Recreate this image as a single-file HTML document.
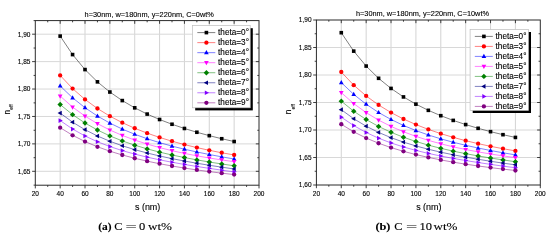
<!DOCTYPE html>
<html><head><meta charset="utf-8"><title>n_eff vs s</title>
<style>html,body{margin:0;padding:0;background:#fff}svg{display:block}text{stroke:#000;stroke-width:0.12px}svg{font-family:"Liberation Sans","DejaVu Sans",sans-serif}</style>
</head><body>
<svg width="550" height="240" viewBox="0 0 550 240">
<defs><filter id="soft" x="0" y="0" width="550" height="240" filterUnits="userSpaceOnUse"><feGaussianBlur stdDeviation="0.32"/></filter></defs>
<rect width="550" height="240" fill="#fff"/>
<g filter="url(#soft)">
<path d="M60.16 20.6 V185.2 M85.01 20.6 V185.2 M109.87 20.6 V185.2 M134.72 20.6 V185.2 M159.58 20.6 V185.2 M184.43 20.6 V185.2 M209.29 20.6 V185.2 M234.14 20.6 V185.2" stroke="#cecece" stroke-width="0.9" fill="none"/>
<path d="M35.3 34.20 H259.0 M35.3 61.62 H259.0 M35.3 89.04 H259.0 M35.3 116.46 H259.0 M35.3 143.88 H259.0 M35.3 171.30 H259.0" stroke="#d8d8d8" stroke-width="1" fill="none"/>
<polyline points="60.16,36.10 72.58,54.58 85.01,69.57 97.44,81.85 109.87,92.03 122.29,100.58 134.72,107.84 147.15,114.08 159.58,119.50 172.01,124.25 184.43,128.47 196.86,132.25 209.29,135.65 221.72,138.73 234.14,141.54" fill="none" stroke="#000000" stroke-width="0.5"/>
<rect x="58.36" y="34.30" width="3.6" height="3.6" fill="#000000"/>
<rect x="70.78" y="52.78" width="3.6" height="3.6" fill="#000000"/>
<rect x="83.21" y="67.77" width="3.6" height="3.6" fill="#000000"/>
<rect x="95.64" y="80.05" width="3.6" height="3.6" fill="#000000"/>
<rect x="108.07" y="90.23" width="3.6" height="3.6" fill="#000000"/>
<rect x="120.49" y="98.78" width="3.6" height="3.6" fill="#000000"/>
<rect x="132.92" y="106.04" width="3.6" height="3.6" fill="#000000"/>
<rect x="145.35" y="112.28" width="3.6" height="3.6" fill="#000000"/>
<rect x="157.78" y="117.70" width="3.6" height="3.6" fill="#000000"/>
<rect x="170.21" y="122.45" width="3.6" height="3.6" fill="#000000"/>
<rect x="182.63" y="126.67" width="3.6" height="3.6" fill="#000000"/>
<rect x="195.06" y="130.45" width="3.6" height="3.6" fill="#000000"/>
<rect x="207.49" y="133.85" width="3.6" height="3.6" fill="#000000"/>
<rect x="219.92" y="136.93" width="3.6" height="3.6" fill="#000000"/>
<rect x="232.34" y="139.74" width="3.6" height="3.6" fill="#000000"/>
<polyline points="60.16,75.42 72.58,88.59 85.01,99.45 97.44,108.51 109.87,116.15 122.29,122.66 134.72,128.27 147.15,133.15 159.58,137.43 172.01,141.21 184.43,144.58 196.86,147.60 209.29,150.31 221.72,152.76 234.14,154.98" fill="none" stroke="#ff0000" stroke-width="0.5"/>
<circle cx="60.16" cy="75.42" r="2.15" fill="#ff0000"/>
<circle cx="72.58" cy="88.59" r="2.15" fill="#ff0000"/>
<circle cx="85.01" cy="99.45" r="2.15" fill="#ff0000"/>
<circle cx="97.44" cy="108.51" r="2.15" fill="#ff0000"/>
<circle cx="109.87" cy="116.15" r="2.15" fill="#ff0000"/>
<circle cx="122.29" cy="122.66" r="2.15" fill="#ff0000"/>
<circle cx="134.72" cy="128.27" r="2.15" fill="#ff0000"/>
<circle cx="147.15" cy="133.15" r="2.15" fill="#ff0000"/>
<circle cx="159.58" cy="137.43" r="2.15" fill="#ff0000"/>
<circle cx="172.01" cy="141.21" r="2.15" fill="#ff0000"/>
<circle cx="184.43" cy="144.58" r="2.15" fill="#ff0000"/>
<circle cx="196.86" cy="147.60" r="2.15" fill="#ff0000"/>
<circle cx="209.29" cy="150.31" r="2.15" fill="#ff0000"/>
<circle cx="221.72" cy="152.76" r="2.15" fill="#ff0000"/>
<circle cx="234.14" cy="154.98" r="2.15" fill="#ff0000"/>
<polyline points="60.16,85.95 72.58,97.81 85.01,107.72 97.44,116.04 109.87,123.08 122.29,129.09 134.72,134.25 147.15,138.72 159.58,142.64 172.01,146.11 184.43,149.20 196.86,151.98 209.29,154.51 221.72,156.84 234.14,158.99" fill="none" stroke="#0000ff" stroke-width="0.5"/>
<polygon points="60.16,83.35 62.50,87.56 57.82,87.56" fill="#0000ff"/>
<polygon points="72.58,95.21 74.92,99.42 70.24,99.42" fill="#0000ff"/>
<polygon points="85.01,105.12 87.35,109.33 82.67,109.33" fill="#0000ff"/>
<polygon points="97.44,113.44 99.78,117.65 95.10,117.65" fill="#0000ff"/>
<polygon points="109.87,120.48 112.21,124.69 107.53,124.69" fill="#0000ff"/>
<polygon points="122.29,126.49 124.63,130.70 119.95,130.70" fill="#0000ff"/>
<polygon points="134.72,131.65 137.06,135.86 132.38,135.86" fill="#0000ff"/>
<polygon points="147.15,136.12 149.49,140.33 144.81,140.33" fill="#0000ff"/>
<polygon points="159.58,140.04 161.92,144.25 157.24,144.25" fill="#0000ff"/>
<polygon points="172.01,143.51 174.35,147.72 169.67,147.72" fill="#0000ff"/>
<polygon points="184.43,146.60 186.77,150.81 182.09,150.81" fill="#0000ff"/>
<polygon points="196.86,149.38 199.20,153.59 194.52,153.59" fill="#0000ff"/>
<polygon points="209.29,151.91 211.63,156.12 206.95,156.12" fill="#0000ff"/>
<polygon points="221.72,154.24 224.06,158.45 219.38,158.45" fill="#0000ff"/>
<polygon points="234.14,156.39 236.48,160.60 231.80,160.60" fill="#0000ff"/>
<polyline points="60.16,96.05 72.58,107.05 85.01,116.11 97.44,123.66 109.87,130.02 122.29,135.43 134.72,140.07 147.15,144.09 159.58,147.60 172.01,150.69 184.43,153.41 196.86,155.84 209.29,158.01 221.72,159.95 234.14,161.69" fill="none" stroke="#ff00ff" stroke-width="0.5"/>
<polygon points="60.16,98.65 62.50,94.44 57.82,94.44" fill="#ff00ff"/>
<polygon points="72.58,109.65 74.92,105.44 70.24,105.44" fill="#ff00ff"/>
<polygon points="85.01,118.71 87.35,114.50 82.67,114.50" fill="#ff00ff"/>
<polygon points="97.44,126.26 99.78,122.05 95.10,122.05" fill="#ff00ff"/>
<polygon points="109.87,132.62 112.21,128.41 107.53,128.41" fill="#ff00ff"/>
<polygon points="122.29,138.03 124.63,133.82 119.95,133.82" fill="#ff00ff"/>
<polygon points="134.72,142.67 137.06,138.46 132.38,138.46" fill="#ff00ff"/>
<polygon points="147.15,146.69 149.49,142.48 144.81,142.48" fill="#ff00ff"/>
<polygon points="159.58,150.20 161.92,145.99 157.24,145.99" fill="#ff00ff"/>
<polygon points="172.01,153.29 174.35,149.08 169.67,149.08" fill="#ff00ff"/>
<polygon points="184.43,156.01 186.77,151.80 182.09,151.80" fill="#ff00ff"/>
<polygon points="196.86,158.44 199.20,154.23 194.52,154.23" fill="#ff00ff"/>
<polygon points="209.29,160.61 211.63,156.40 206.95,156.40" fill="#ff00ff"/>
<polygon points="221.72,162.55 224.06,158.34 219.38,158.34" fill="#ff00ff"/>
<polygon points="234.14,164.29 236.48,160.08 231.80,160.08" fill="#ff00ff"/>
<polyline points="60.16,104.57 72.58,114.65 85.01,123.02 97.44,130.01 109.87,135.90 122.29,140.90 134.72,145.18 147.15,148.89 159.58,152.13 172.01,154.99 184.43,157.56 196.86,159.88 209.29,162.01 221.72,163.97 234.14,165.81" fill="none" stroke="#008000" stroke-width="0.5"/>
<polygon points="60.16,101.87 62.86,104.57 60.16,107.27 57.46,104.57" fill="#008000"/>
<polygon points="72.58,111.95 75.28,114.65 72.58,117.35 69.88,114.65" fill="#008000"/>
<polygon points="85.01,120.32 87.71,123.02 85.01,125.72 82.31,123.02" fill="#008000"/>
<polygon points="97.44,127.31 100.14,130.01 97.44,132.71 94.74,130.01" fill="#008000"/>
<polygon points="109.87,133.20 112.57,135.90 109.87,138.60 107.17,135.90" fill="#008000"/>
<polygon points="122.29,138.20 124.99,140.90 122.29,143.60 119.59,140.90" fill="#008000"/>
<polygon points="134.72,142.48 137.42,145.18 134.72,147.88 132.02,145.18" fill="#008000"/>
<polygon points="147.15,146.19 149.85,148.89 147.15,151.59 144.45,148.89" fill="#008000"/>
<polygon points="159.58,149.43 162.28,152.13 159.58,154.83 156.88,152.13" fill="#008000"/>
<polygon points="172.01,152.29 174.71,154.99 172.01,157.69 169.31,154.99" fill="#008000"/>
<polygon points="184.43,154.86 187.13,157.56 184.43,160.26 181.73,157.56" fill="#008000"/>
<polygon points="196.86,157.18 199.56,159.88 196.86,162.58 194.16,159.88" fill="#008000"/>
<polygon points="209.29,159.31 211.99,162.01 209.29,164.71 206.59,162.01" fill="#008000"/>
<polygon points="221.72,161.27 224.42,163.97 221.72,166.67 219.02,163.97" fill="#008000"/>
<polygon points="234.14,163.11 236.84,165.81 234.14,168.51 231.44,165.81" fill="#008000"/>
<polyline points="60.16,113.09 72.58,122.17 85.01,129.69 97.44,135.97 109.87,141.26 122.29,145.77 134.72,149.64 147.15,153.01 159.58,155.99 172.01,158.64 184.43,161.04 196.86,163.23 209.29,165.27 221.72,167.17 234.14,168.97" fill="none" stroke="#000080" stroke-width="0.5"/>
<polygon points="57.56,113.09 61.77,110.75 61.77,115.43" fill="#000080"/>
<polygon points="69.98,122.17 74.20,119.83 74.20,124.51" fill="#000080"/>
<polygon points="82.41,129.69 86.62,127.35 86.62,132.03" fill="#000080"/>
<polygon points="94.84,135.97 99.05,133.63 99.05,138.31" fill="#000080"/>
<polygon points="107.27,141.26 111.48,138.92 111.48,143.60" fill="#000080"/>
<polygon points="119.69,145.77 123.91,143.43 123.91,148.11" fill="#000080"/>
<polygon points="132.12,149.64 136.33,147.30 136.33,151.98" fill="#000080"/>
<polygon points="144.55,153.01 148.76,150.67 148.76,155.35" fill="#000080"/>
<polygon points="156.98,155.99 161.19,153.65 161.19,158.33" fill="#000080"/>
<polygon points="169.41,158.64 173.62,156.30 173.62,160.98" fill="#000080"/>
<polygon points="181.83,161.04 186.05,158.70 186.05,163.38" fill="#000080"/>
<polygon points="194.26,163.23 198.47,160.89 198.47,165.57" fill="#000080"/>
<polygon points="206.69,165.27 210.90,162.93 210.90,167.61" fill="#000080"/>
<polygon points="219.12,167.17 223.33,164.83 223.33,169.51" fill="#000080"/>
<polygon points="231.54,168.97 235.76,166.63 235.76,171.31" fill="#000080"/>
<polyline points="60.16,120.56 72.58,129.04 85.01,135.99 97.44,141.74 109.87,146.54 122.29,150.61 134.72,154.11 147.15,157.15 159.58,159.84 172.01,162.26 184.43,164.45 196.86,166.48 209.29,168.37 221.72,170.16 234.14,171.87" fill="none" stroke="#8000ff" stroke-width="0.5"/>
<polygon points="62.76,120.56 58.54,118.22 58.54,122.90" fill="#8000ff"/>
<polygon points="75.18,129.04 70.97,126.70 70.97,131.38" fill="#8000ff"/>
<polygon points="87.61,135.99 83.40,133.65 83.40,138.33" fill="#8000ff"/>
<polygon points="100.04,141.74 95.83,139.40 95.83,144.08" fill="#8000ff"/>
<polygon points="112.47,146.54 108.25,144.20 108.25,148.88" fill="#8000ff"/>
<polygon points="124.89,150.61 120.68,148.27 120.68,152.95" fill="#8000ff"/>
<polygon points="137.32,154.11 133.11,151.77 133.11,156.45" fill="#8000ff"/>
<polygon points="149.75,157.15 145.54,154.81 145.54,159.49" fill="#8000ff"/>
<polygon points="162.18,159.84 157.97,157.50 157.97,162.18" fill="#8000ff"/>
<polygon points="174.61,162.26 170.39,159.92 170.39,164.60" fill="#8000ff"/>
<polygon points="187.03,164.45 182.82,162.11 182.82,166.79" fill="#8000ff"/>
<polygon points="199.46,166.48 195.25,164.14 195.25,168.82" fill="#8000ff"/>
<polygon points="211.89,168.37 207.68,166.03 207.68,170.71" fill="#8000ff"/>
<polygon points="224.32,170.16 220.10,167.82 220.10,172.50" fill="#8000ff"/>
<polygon points="236.74,171.87 232.53,169.53 232.53,174.21" fill="#8000ff"/>
<polyline points="60.16,127.65 72.58,135.29 85.01,141.56 97.44,146.78 109.87,151.20 122.29,154.98 134.72,158.27 147.15,161.16 159.58,163.72 172.01,166.01 184.43,168.07 196.86,169.93 209.29,171.62 221.72,173.17 234.14,174.58" fill="none" stroke="#800080" stroke-width="0.5"/>
<circle cx="60.16" cy="127.65" r="2.15" fill="#800080"/>
<circle cx="72.58" cy="135.29" r="2.15" fill="#800080"/>
<circle cx="85.01" cy="141.56" r="2.15" fill="#800080"/>
<circle cx="97.44" cy="146.78" r="2.15" fill="#800080"/>
<circle cx="109.87" cy="151.20" r="2.15" fill="#800080"/>
<circle cx="122.29" cy="154.98" r="2.15" fill="#800080"/>
<circle cx="134.72" cy="158.27" r="2.15" fill="#800080"/>
<circle cx="147.15" cy="161.16" r="2.15" fill="#800080"/>
<circle cx="159.58" cy="163.72" r="2.15" fill="#800080"/>
<circle cx="172.01" cy="166.01" r="2.15" fill="#800080"/>
<circle cx="184.43" cy="168.07" r="2.15" fill="#800080"/>
<circle cx="196.86" cy="169.93" r="2.15" fill="#800080"/>
<circle cx="209.29" cy="171.62" r="2.15" fill="#800080"/>
<circle cx="221.72" cy="173.17" r="2.15" fill="#800080"/>
<circle cx="234.14" cy="174.58" r="2.15" fill="#800080"/>
<rect x="35.3" y="20.6" width="223.70" height="164.60" fill="none" stroke="#2a2a2a" stroke-width="1"/>
<path d="M35.30 185.2 v3.2 M47.73 185.2 v1.7 M47.73 20.6 v1.7 M60.16 185.2 v3.2 M60.16 20.6 v3.2 M72.58 185.2 v1.7 M72.58 20.6 v1.7 M85.01 185.2 v3.2 M85.01 20.6 v3.2 M97.44 185.2 v1.7 M97.44 20.6 v1.7 M109.87 185.2 v3.2 M109.87 20.6 v3.2 M122.29 185.2 v1.7 M122.29 20.6 v1.7 M134.72 185.2 v3.2 M134.72 20.6 v3.2 M147.15 185.2 v1.7 M147.15 20.6 v1.7 M159.58 185.2 v3.2 M159.58 20.6 v3.2 M172.01 185.2 v1.7 M172.01 20.6 v1.7 M184.43 185.2 v3.2 M184.43 20.6 v3.2 M196.86 185.2 v1.7 M196.86 20.6 v1.7 M209.29 185.2 v3.2 M209.29 20.6 v3.2 M221.72 185.2 v1.7 M221.72 20.6 v1.7 M234.14 185.2 v3.2 M234.14 20.6 v3.2 M246.57 185.2 v1.7 M246.57 20.6 v1.7 M259.00 185.2 v3.2 M35.3 34.20 h-3.2 M259.0 34.20 h-3.2 M35.3 61.62 h-3.2 M259.0 61.62 h-3.2 M35.3 89.04 h-3.2 M259.0 89.04 h-3.2 M35.3 116.46 h-3.2 M259.0 116.46 h-3.2 M35.3 143.88 h-3.2 M259.0 143.88 h-3.2 M35.3 171.30 h-3.2 M259.0 171.30 h-3.2 M35.3 20.60 h-1.7 M35.3 48.02 h-1.7 M259.0 48.02 h-1.7 M35.3 75.44 h-1.7 M259.0 75.44 h-1.7 M35.3 102.86 h-1.7 M259.0 102.86 h-1.7 M35.3 130.28 h-1.7 M259.0 130.28 h-1.7 M35.3 157.70 h-1.7 M259.0 157.70 h-1.7 M35.3 185.12 h-1.7" stroke="#2a2a2a" stroke-width="0.9" fill="none"/>
<g font-size="6.5" fill="#000">
<text x="35.30" y="195.90" text-anchor="middle">20</text>
<text x="60.16" y="195.90" text-anchor="middle">40</text>
<text x="85.01" y="195.90" text-anchor="middle">60</text>
<text x="109.87" y="195.90" text-anchor="middle">80</text>
<text x="134.72" y="195.90" text-anchor="middle">100</text>
<text x="159.58" y="195.90" text-anchor="middle">120</text>
<text x="184.43" y="195.90" text-anchor="middle">140</text>
<text x="209.29" y="195.90" text-anchor="middle">160</text>
<text x="234.14" y="195.90" text-anchor="middle">180</text>
<text x="259.00" y="195.90" text-anchor="middle">200</text>
<text x="30.40" y="36.50" text-anchor="end">1,90</text>
<text x="30.40" y="63.92" text-anchor="end">1,85</text>
<text x="30.40" y="91.34" text-anchor="end">1,80</text>
<text x="30.40" y="118.76" text-anchor="end">1,75</text>
<text x="30.40" y="146.18" text-anchor="end">1,70</text>
<text x="30.40" y="173.60" text-anchor="end">1,65</text>
</g>
<text x="147.65" y="209.80" text-anchor="middle" font-size="8.6" fill="#000" textLength="25.4" lengthAdjust="spacingAndGlyphs">s (nm)</text>
<text transform="translate(9.7,114.4) rotate(-90)" font-size="8.4" fill="#000">n<tspan font-size="4.9" dy="3.4">eff</tspan></text>
<text x="84.6" y="16.5" font-size="7.6" fill="#000" textLength="129.2" lengthAdjust="spacingAndGlyphs">h=30nm, w=180nm, y=220nm, C=0wt%</text>
<rect x="195.2" y="28.200000000000003" width="57.599999999999994" height="82.19999999999999" fill="#000"/>
<rect x="192.6" y="25.6" width="57.599999999999994" height="82.19999999999999" fill="#fff" stroke="#bdbdbd" stroke-width="0.7"/>
<path d="M197.30 32.60 h18" stroke="#000000" stroke-width="0.5"/>
<rect x="204.60" y="30.80" width="3.6" height="3.6" fill="#000000"/>
<text x="218.10" y="35.20" font-size="8.2" fill="#000">theta=0°</text>
<path d="M197.30 42.63 h18" stroke="#ff0000" stroke-width="0.5"/>
<circle cx="206.40" cy="42.63" r="2.15" fill="#ff0000"/>
<text x="218.10" y="45.23" font-size="8.2" fill="#000">theta=3°</text>
<path d="M197.30 52.66 h18" stroke="#0000ff" stroke-width="0.5"/>
<polygon points="206.40,50.06 208.74,54.27 204.06,54.27" fill="#0000ff"/>
<text x="218.10" y="55.26" font-size="8.2" fill="#000">theta=4°</text>
<path d="M197.30 62.69 h18" stroke="#ff00ff" stroke-width="0.5"/>
<polygon points="206.40,65.29 208.74,61.08 204.06,61.08" fill="#ff00ff"/>
<text x="218.10" y="65.29" font-size="8.2" fill="#000">theta=5°</text>
<path d="M197.30 72.72 h18" stroke="#008000" stroke-width="0.5"/>
<polygon points="206.40,70.02 209.10,72.72 206.40,75.42 203.70,72.72" fill="#008000"/>
<text x="218.10" y="75.32" font-size="8.2" fill="#000">theta=6°</text>
<path d="M197.30 82.75 h18" stroke="#000080" stroke-width="0.5"/>
<polygon points="203.80,82.75 208.01,80.41 208.01,85.09" fill="#000080"/>
<text x="218.10" y="85.35" font-size="8.2" fill="#000">theta=7°</text>
<path d="M197.30 92.78 h18" stroke="#8000ff" stroke-width="0.5"/>
<polygon points="209.00,92.78 204.79,90.44 204.79,95.12" fill="#8000ff"/>
<text x="218.10" y="95.38" font-size="8.2" fill="#000">theta=8°</text>
<path d="M197.30 102.81 h18" stroke="#800080" stroke-width="0.5"/>
<circle cx="206.40" cy="102.81" r="2.15" fill="#800080"/>
<text x="218.10" y="105.41" font-size="8.2" fill="#000">theta=9°</text>
<g font-family="'Liberation Serif', 'DejaVu Serif', serif" font-size="11.4" fill="#000">
<text transform="translate(98.2,230.2) scale(1,1)" font-weight="bold">(a)</text>
<text transform="translate(114.3,230.2) scale(1.08,1)" >C</text>
<text transform="translate(125.6,230.2) scale(1.75,1)" >=</text>
<text transform="translate(139.0,230.2) scale(1.1,1)" >0</text>
<text transform="translate(148.0,230.2) scale(1.15,1)" >wt%</text>
</g>
<path d="M341.28 20.0 V185.0 M366.16 20.0 V185.0 M391.03 20.0 V185.0 M415.91 20.0 V185.0 M440.79 20.0 V185.0 M465.67 20.0 V185.0 M490.54 20.0 V185.0 M515.42 20.0 V185.0" stroke="#cecece" stroke-width="0.9" fill="none"/>
<path d="M316.4 47.50 H540.3 M316.4 75.00 H540.3 M316.4 102.50 H540.3 M316.4 130.00 H540.3 M316.4 157.50 H540.3" stroke="#d8d8d8" stroke-width="1" fill="none"/>
<polyline points="341.28,32.70 353.72,51.13 366.16,66.07 378.59,78.30 391.03,88.43 403.47,96.93 415.91,104.14 428.35,110.33 440.79,115.70 453.23,120.40 465.67,124.57 478.11,128.30 490.54,131.65 502.98,134.68 515.42,137.44" fill="none" stroke="#000000" stroke-width="0.5"/>
<rect x="339.48" y="30.90" width="3.6" height="3.6" fill="#000000"/>
<rect x="351.92" y="49.33" width="3.6" height="3.6" fill="#000000"/>
<rect x="364.36" y="64.27" width="3.6" height="3.6" fill="#000000"/>
<rect x="376.79" y="76.50" width="3.6" height="3.6" fill="#000000"/>
<rect x="389.23" y="86.63" width="3.6" height="3.6" fill="#000000"/>
<rect x="401.67" y="95.13" width="3.6" height="3.6" fill="#000000"/>
<rect x="414.11" y="102.34" width="3.6" height="3.6" fill="#000000"/>
<rect x="426.55" y="108.53" width="3.6" height="3.6" fill="#000000"/>
<rect x="438.99" y="113.90" width="3.6" height="3.6" fill="#000000"/>
<rect x="451.43" y="118.60" width="3.6" height="3.6" fill="#000000"/>
<rect x="463.87" y="122.77" width="3.6" height="3.6" fill="#000000"/>
<rect x="476.31" y="126.50" width="3.6" height="3.6" fill="#000000"/>
<rect x="488.74" y="129.85" width="3.6" height="3.6" fill="#000000"/>
<rect x="501.18" y="132.88" width="3.6" height="3.6" fill="#000000"/>
<rect x="513.62" y="135.64" width="3.6" height="3.6" fill="#000000"/>
<polyline points="341.28,72.02 353.72,85.14 366.16,95.95 378.59,104.96 391.03,112.55 403.47,119.01 415.91,124.57 428.35,129.40 440.79,133.63 453.23,137.36 465.67,140.68 478.11,143.65 490.54,146.31 502.98,148.71 515.42,150.88" fill="none" stroke="#ff0000" stroke-width="0.5"/>
<circle cx="341.28" cy="72.02" r="2.15" fill="#ff0000"/>
<circle cx="353.72" cy="85.14" r="2.15" fill="#ff0000"/>
<circle cx="366.16" cy="95.95" r="2.15" fill="#ff0000"/>
<circle cx="378.59" cy="104.96" r="2.15" fill="#ff0000"/>
<circle cx="391.03" cy="112.55" r="2.15" fill="#ff0000"/>
<circle cx="403.47" cy="119.01" r="2.15" fill="#ff0000"/>
<circle cx="415.91" cy="124.57" r="2.15" fill="#ff0000"/>
<circle cx="428.35" cy="129.40" r="2.15" fill="#ff0000"/>
<circle cx="440.79" cy="133.63" r="2.15" fill="#ff0000"/>
<circle cx="453.23" cy="137.36" r="2.15" fill="#ff0000"/>
<circle cx="465.67" cy="140.68" r="2.15" fill="#ff0000"/>
<circle cx="478.11" cy="143.65" r="2.15" fill="#ff0000"/>
<circle cx="490.54" cy="146.31" r="2.15" fill="#ff0000"/>
<circle cx="502.98" cy="148.71" r="2.15" fill="#ff0000"/>
<circle cx="515.42" cy="150.88" r="2.15" fill="#ff0000"/>
<polyline points="341.28,82.55 353.72,94.36 366.16,104.22 378.59,112.49 391.03,119.48 403.47,125.44 415.91,130.55 428.35,134.97 440.79,138.84 453.23,142.26 465.67,145.30 478.11,148.03 490.54,150.51 502.98,152.79 515.42,154.89" fill="none" stroke="#0000ff" stroke-width="0.5"/>
<polygon points="341.28,79.95 343.62,84.16 338.94,84.16" fill="#0000ff"/>
<polygon points="353.72,91.76 356.06,95.97 351.38,95.97" fill="#0000ff"/>
<polygon points="366.16,101.62 368.50,105.83 363.82,105.83" fill="#0000ff"/>
<polygon points="378.59,109.89 380.93,114.10 376.25,114.10" fill="#0000ff"/>
<polygon points="391.03,116.88 393.37,121.09 388.69,121.09" fill="#0000ff"/>
<polygon points="403.47,122.84 405.81,127.05 401.13,127.05" fill="#0000ff"/>
<polygon points="415.91,127.95 418.25,132.16 413.57,132.16" fill="#0000ff"/>
<polygon points="428.35,132.37 430.69,136.58 426.01,136.58" fill="#0000ff"/>
<polygon points="440.79,136.24 443.13,140.45 438.45,140.45" fill="#0000ff"/>
<polygon points="453.23,139.66 455.57,143.87 450.89,143.87" fill="#0000ff"/>
<polygon points="465.67,142.70 468.01,146.91 463.33,146.91" fill="#0000ff"/>
<polygon points="478.11,145.43 480.45,149.64 475.77,149.64" fill="#0000ff"/>
<polygon points="490.54,147.91 492.88,152.12 488.20,152.12" fill="#0000ff"/>
<polygon points="502.98,150.19 505.32,154.40 500.64,154.40" fill="#0000ff"/>
<polygon points="515.42,152.29 517.76,156.50 513.08,156.50" fill="#0000ff"/>
<polyline points="341.28,92.65 353.72,103.60 366.16,112.61 378.59,120.11 391.03,126.42 403.47,131.78 415.91,136.37 428.35,140.34 440.79,143.80 453.23,146.84 465.67,149.51 478.11,151.89 490.54,154.01 502.98,155.90 515.42,157.59" fill="none" stroke="#ff00ff" stroke-width="0.5"/>
<polygon points="341.28,95.25 343.62,91.04 338.94,91.04" fill="#ff00ff"/>
<polygon points="353.72,106.20 356.06,101.99 351.38,101.99" fill="#ff00ff"/>
<polygon points="366.16,115.21 368.50,111.00 363.82,111.00" fill="#ff00ff"/>
<polygon points="378.59,122.71 380.93,118.50 376.25,118.50" fill="#ff00ff"/>
<polygon points="391.03,129.02 393.37,124.81 388.69,124.81" fill="#ff00ff"/>
<polygon points="403.47,134.38 405.81,130.17 401.13,130.17" fill="#ff00ff"/>
<polygon points="415.91,138.97 418.25,134.76 413.57,134.76" fill="#ff00ff"/>
<polygon points="428.35,142.94 430.69,138.73 426.01,138.73" fill="#ff00ff"/>
<polygon points="440.79,146.40 443.13,142.19 438.45,142.19" fill="#ff00ff"/>
<polygon points="453.23,149.44 455.57,145.23 450.89,145.23" fill="#ff00ff"/>
<polygon points="465.67,152.11 468.01,147.90 463.33,147.90" fill="#ff00ff"/>
<polygon points="478.11,154.49 480.45,150.28 475.77,150.28" fill="#ff00ff"/>
<polygon points="490.54,156.61 492.88,152.40 488.20,152.40" fill="#ff00ff"/>
<polygon points="502.98,158.50 505.32,154.29 500.64,154.29" fill="#ff00ff"/>
<polygon points="515.42,160.19 517.76,155.98 513.08,155.98" fill="#ff00ff"/>
<polyline points="341.28,101.17 353.72,111.20 366.16,119.52 378.59,126.46 391.03,132.30 403.47,137.25 415.91,141.48 428.35,145.14 440.79,148.33 453.23,151.14 465.67,153.66 478.11,155.93 490.54,158.01 502.98,159.92 515.42,161.71" fill="none" stroke="#008000" stroke-width="0.5"/>
<polygon points="341.28,98.47 343.98,101.17 341.28,103.87 338.58,101.17" fill="#008000"/>
<polygon points="353.72,108.50 356.42,111.20 353.72,113.90 351.02,111.20" fill="#008000"/>
<polygon points="366.16,116.82 368.86,119.52 366.16,122.22 363.46,119.52" fill="#008000"/>
<polygon points="378.59,123.76 381.29,126.46 378.59,129.16 375.89,126.46" fill="#008000"/>
<polygon points="391.03,129.60 393.73,132.30 391.03,135.00 388.33,132.30" fill="#008000"/>
<polygon points="403.47,134.55 406.17,137.25 403.47,139.95 400.77,137.25" fill="#008000"/>
<polygon points="415.91,138.78 418.61,141.48 415.91,144.18 413.21,141.48" fill="#008000"/>
<polygon points="428.35,142.44 431.05,145.14 428.35,147.84 425.65,145.14" fill="#008000"/>
<polygon points="440.79,145.63 443.49,148.33 440.79,151.03 438.09,148.33" fill="#008000"/>
<polygon points="453.23,148.44 455.93,151.14 453.23,153.84 450.53,151.14" fill="#008000"/>
<polygon points="465.67,150.96 468.37,153.66 465.67,156.36 462.97,153.66" fill="#008000"/>
<polygon points="478.11,153.23 480.81,155.93 478.11,158.63 475.41,155.93" fill="#008000"/>
<polygon points="490.54,155.31 493.24,158.01 490.54,160.71 487.84,158.01" fill="#008000"/>
<polygon points="502.98,157.22 505.68,159.92 502.98,162.62 500.28,159.92" fill="#008000"/>
<polygon points="515.42,159.01 518.12,161.71 515.42,164.41 512.72,161.71" fill="#008000"/>
<polyline points="341.28,109.69 353.72,118.72 366.16,126.19 378.59,132.42 391.03,137.66 403.47,142.12 415.91,145.94 428.35,149.26 440.79,152.19 453.23,154.79 465.67,157.14 478.11,159.28 490.54,161.27 502.98,163.12 515.42,164.87" fill="none" stroke="#000080" stroke-width="0.5"/>
<polygon points="338.68,109.69 342.89,107.35 342.89,112.03" fill="#000080"/>
<polygon points="351.12,118.72 355.33,116.38 355.33,121.06" fill="#000080"/>
<polygon points="363.56,126.19 367.77,123.85 367.77,128.53" fill="#000080"/>
<polygon points="375.99,132.42 380.21,130.08 380.21,134.76" fill="#000080"/>
<polygon points="388.43,137.66 392.65,135.32 392.65,140.00" fill="#000080"/>
<polygon points="400.87,142.12 405.08,139.78 405.08,144.46" fill="#000080"/>
<polygon points="413.31,145.94 417.52,143.60 417.52,148.28" fill="#000080"/>
<polygon points="425.75,149.26 429.96,146.92 429.96,151.60" fill="#000080"/>
<polygon points="438.19,152.19 442.40,149.85 442.40,154.53" fill="#000080"/>
<polygon points="450.63,154.79 454.84,152.45 454.84,157.13" fill="#000080"/>
<polygon points="463.07,157.14 467.28,154.80 467.28,159.48" fill="#000080"/>
<polygon points="475.51,159.28 479.72,156.94 479.72,161.62" fill="#000080"/>
<polygon points="487.94,161.27 492.16,158.93 492.16,163.61" fill="#000080"/>
<polygon points="500.38,163.12 504.60,160.78 504.60,165.46" fill="#000080"/>
<polygon points="512.82,164.87 517.03,162.53 517.03,167.21" fill="#000080"/>
<polyline points="341.28,117.16 353.72,125.59 366.16,132.49 378.59,138.19 391.03,142.94 403.47,146.96 415.91,150.41 428.35,153.40 440.79,156.04 453.23,158.41 465.67,160.55 478.11,162.53 490.54,164.37 502.98,166.11 515.42,167.77" fill="none" stroke="#8000ff" stroke-width="0.5"/>
<polygon points="343.88,117.16 339.67,114.82 339.67,119.50" fill="#8000ff"/>
<polygon points="356.32,125.59 352.10,123.25 352.10,127.93" fill="#8000ff"/>
<polygon points="368.76,132.49 364.54,130.15 364.54,134.83" fill="#8000ff"/>
<polygon points="381.19,138.19 376.98,135.85 376.98,140.53" fill="#8000ff"/>
<polygon points="393.63,142.94 389.42,140.60 389.42,145.28" fill="#8000ff"/>
<polygon points="406.07,146.96 401.86,144.62 401.86,149.30" fill="#8000ff"/>
<polygon points="418.51,150.41 414.30,148.07 414.30,152.75" fill="#8000ff"/>
<polygon points="430.95,153.40 426.74,151.06 426.74,155.74" fill="#8000ff"/>
<polygon points="443.39,156.04 439.18,153.70 439.18,158.38" fill="#8000ff"/>
<polygon points="455.83,158.41 451.62,156.07 451.62,160.75" fill="#8000ff"/>
<polygon points="468.27,160.55 464.05,158.21 464.05,162.89" fill="#8000ff"/>
<polygon points="480.71,162.53 476.49,160.19 476.49,164.87" fill="#8000ff"/>
<polygon points="493.14,164.37 488.93,162.03 488.93,166.71" fill="#8000ff"/>
<polygon points="505.58,166.11 501.37,163.77 501.37,168.45" fill="#8000ff"/>
<polygon points="518.02,167.77 513.81,165.43 513.81,170.11" fill="#8000ff"/>
<polyline points="341.28,124.25 353.72,131.84 366.16,138.06 378.59,143.23 391.03,147.60 403.47,151.33 415.91,154.57 428.35,157.41 440.79,159.92 453.23,162.16 465.67,164.17 478.11,165.98 490.54,167.62 502.98,169.12 515.42,170.48" fill="none" stroke="#800080" stroke-width="0.5"/>
<circle cx="341.28" cy="124.25" r="2.15" fill="#800080"/>
<circle cx="353.72" cy="131.84" r="2.15" fill="#800080"/>
<circle cx="366.16" cy="138.06" r="2.15" fill="#800080"/>
<circle cx="378.59" cy="143.23" r="2.15" fill="#800080"/>
<circle cx="391.03" cy="147.60" r="2.15" fill="#800080"/>
<circle cx="403.47" cy="151.33" r="2.15" fill="#800080"/>
<circle cx="415.91" cy="154.57" r="2.15" fill="#800080"/>
<circle cx="428.35" cy="157.41" r="2.15" fill="#800080"/>
<circle cx="440.79" cy="159.92" r="2.15" fill="#800080"/>
<circle cx="453.23" cy="162.16" r="2.15" fill="#800080"/>
<circle cx="465.67" cy="164.17" r="2.15" fill="#800080"/>
<circle cx="478.11" cy="165.98" r="2.15" fill="#800080"/>
<circle cx="490.54" cy="167.62" r="2.15" fill="#800080"/>
<circle cx="502.98" cy="169.12" r="2.15" fill="#800080"/>
<circle cx="515.42" cy="170.48" r="2.15" fill="#800080"/>
<rect x="316.4" y="20.0" width="223.90" height="165.00" fill="none" stroke="#2a2a2a" stroke-width="1"/>
<path d="M316.40 185.0 v3.2 M328.84 185.0 v1.7 M328.84 20.0 v1.7 M341.28 185.0 v3.2 M341.28 20.0 v3.2 M353.72 185.0 v1.7 M353.72 20.0 v1.7 M366.16 185.0 v3.2 M366.16 20.0 v3.2 M378.59 185.0 v1.7 M378.59 20.0 v1.7 M391.03 185.0 v3.2 M391.03 20.0 v3.2 M403.47 185.0 v1.7 M403.47 20.0 v1.7 M415.91 185.0 v3.2 M415.91 20.0 v3.2 M428.35 185.0 v1.7 M428.35 20.0 v1.7 M440.79 185.0 v3.2 M440.79 20.0 v3.2 M453.23 185.0 v1.7 M453.23 20.0 v1.7 M465.67 185.0 v3.2 M465.67 20.0 v3.2 M478.11 185.0 v1.7 M478.11 20.0 v1.7 M490.54 185.0 v3.2 M490.54 20.0 v3.2 M502.98 185.0 v1.7 M502.98 20.0 v1.7 M515.42 185.0 v3.2 M515.42 20.0 v3.2 M527.86 185.0 v1.7 M527.86 20.0 v1.7 M540.30 185.0 v3.2 M316.4 20.00 h-3.2 M316.4 47.50 h-3.2 M540.3 47.50 h-3.2 M316.4 75.00 h-3.2 M540.3 75.00 h-3.2 M316.4 102.50 h-3.2 M540.3 102.50 h-3.2 M316.4 130.00 h-3.2 M540.3 130.00 h-3.2 M316.4 157.50 h-3.2 M540.3 157.50 h-3.2 M316.4 185.00 h-3.2 M316.4 33.75 h-1.7 M540.3 33.75 h-1.7 M316.4 61.25 h-1.7 M540.3 61.25 h-1.7 M316.4 88.75 h-1.7 M540.3 88.75 h-1.7 M316.4 116.25 h-1.7 M540.3 116.25 h-1.7 M316.4 143.75 h-1.7 M540.3 143.75 h-1.7 M316.4 171.25 h-1.7 M540.3 171.25 h-1.7" stroke="#2a2a2a" stroke-width="0.9" fill="none"/>
<g font-size="6.5" fill="#000">
<text x="316.40" y="195.70" text-anchor="middle">20</text>
<text x="341.28" y="195.70" text-anchor="middle">40</text>
<text x="366.16" y="195.70" text-anchor="middle">60</text>
<text x="391.03" y="195.70" text-anchor="middle">80</text>
<text x="415.91" y="195.70" text-anchor="middle">100</text>
<text x="440.79" y="195.70" text-anchor="middle">120</text>
<text x="465.67" y="195.70" text-anchor="middle">140</text>
<text x="490.54" y="195.70" text-anchor="middle">160</text>
<text x="515.42" y="195.70" text-anchor="middle">180</text>
<text x="540.30" y="195.70" text-anchor="middle">200</text>
<text x="311.50" y="22.30" text-anchor="end">1,90</text>
<text x="311.50" y="49.80" text-anchor="end">1,85</text>
<text x="311.50" y="77.30" text-anchor="end">1,80</text>
<text x="311.50" y="104.80" text-anchor="end">1,75</text>
<text x="311.50" y="132.30" text-anchor="end">1,70</text>
<text x="311.50" y="159.80" text-anchor="end">1,65</text>
<text x="311.50" y="187.30" text-anchor="end">1,60</text>
</g>
<text x="428.85" y="209.60" text-anchor="middle" font-size="8.6" fill="#000" textLength="25.4" lengthAdjust="spacingAndGlyphs">s (nm)</text>
<text transform="translate(291.3,114.2) rotate(-90)" font-size="8.4" fill="#000">n<tspan font-size="4.9" dy="3.4">eff</tspan></text>
<text x="356.0" y="15.8" font-size="7.6" fill="#000" textLength="133.0" lengthAdjust="spacingAndGlyphs">h=30nm, w=180nm, y=220nm, C=10wt%</text>
<rect x="472.70000000000005" y="32.0" width="58.299999999999955" height="81.0" fill="#000"/>
<rect x="470.1" y="29.4" width="58.299999999999955" height="81.0" fill="#fff" stroke="#bdbdbd" stroke-width="0.7"/>
<path d="M474.80 36.40 h18" stroke="#000000" stroke-width="0.5"/>
<rect x="482.10" y="34.60" width="3.6" height="3.6" fill="#000000"/>
<text x="495.60" y="39.00" font-size="8.2" fill="#000">theta=0°</text>
<path d="M474.80 46.40 h18" stroke="#ff0000" stroke-width="0.5"/>
<circle cx="483.90" cy="46.40" r="2.15" fill="#ff0000"/>
<text x="495.60" y="49.00" font-size="8.2" fill="#000">theta=3°</text>
<path d="M474.80 56.40 h18" stroke="#0000ff" stroke-width="0.5"/>
<polygon points="483.90,53.80 486.24,58.01 481.56,58.01" fill="#0000ff"/>
<text x="495.60" y="59.00" font-size="8.2" fill="#000">theta=4°</text>
<path d="M474.80 66.40 h18" stroke="#ff00ff" stroke-width="0.5"/>
<polygon points="483.90,69.00 486.24,64.79 481.56,64.79" fill="#ff00ff"/>
<text x="495.60" y="69.00" font-size="8.2" fill="#000">theta=5°</text>
<path d="M474.80 76.40 h18" stroke="#008000" stroke-width="0.5"/>
<polygon points="483.90,73.70 486.60,76.40 483.90,79.10 481.20,76.40" fill="#008000"/>
<text x="495.60" y="79.00" font-size="8.2" fill="#000">theta=6°</text>
<path d="M474.80 86.40 h18" stroke="#000080" stroke-width="0.5"/>
<polygon points="481.30,86.40 485.51,84.06 485.51,88.74" fill="#000080"/>
<text x="495.60" y="89.00" font-size="8.2" fill="#000">theta=7°</text>
<path d="M474.80 96.40 h18" stroke="#8000ff" stroke-width="0.5"/>
<polygon points="486.50,96.40 482.29,94.06 482.29,98.74" fill="#8000ff"/>
<text x="495.60" y="99.00" font-size="8.2" fill="#000">theta=8°</text>
<path d="M474.80 106.40 h18" stroke="#800080" stroke-width="0.5"/>
<circle cx="483.90" cy="106.40" r="2.15" fill="#800080"/>
<text x="495.60" y="109.00" font-size="8.2" fill="#000">theta=9°</text>
<g font-family="'Liberation Serif', 'DejaVu Serif', serif" font-size="11.4" fill="#000">
<text transform="translate(375.4,230.2) scale(1.08,1)" font-weight="bold">(b)</text>
<text transform="translate(394.2,230.2) scale(1.08,1)" >C</text>
<text transform="translate(405.9,230.2) scale(1.75,1)" >=</text>
<text transform="translate(419.6,230.2) scale(1.1,1)" >10</text>
<text transform="translate(433.5,230.2) scale(1.15,1)" >wt%</text>
</g>
</g>
</svg>
</body></html>
